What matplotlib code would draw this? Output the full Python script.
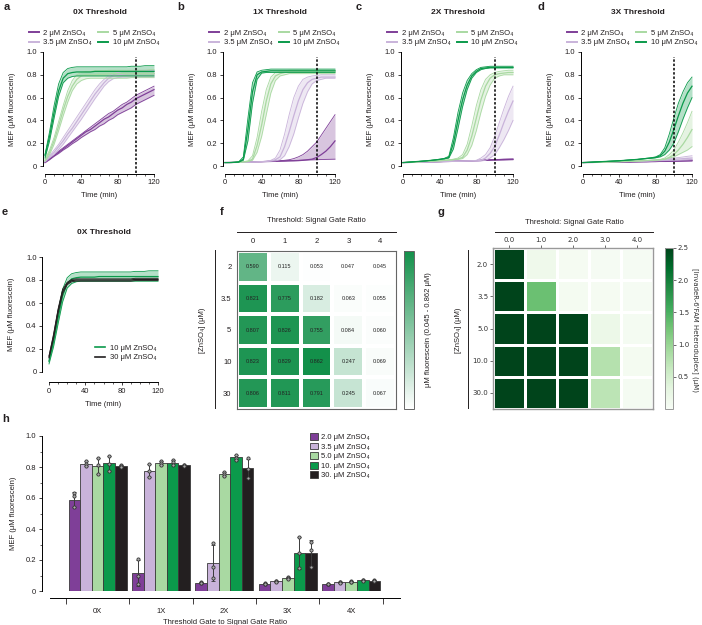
import numpy as np
import matplotlib
matplotlib.use('Agg')
import matplotlib.pyplot as plt
from matplotlib.colors import LinearSegmentedColormap
from matplotlib.ticker import MultipleLocator
from matplotlib.lines import Line2D
from matplotlib.patches import Patch

plt.rcParams['font.family'] = ['Liberation Sans', 'DejaVu Sans']
plt.rcParams['font.size'] = 5.5
plt.rcParams['axes.linewidth'] = 0.7
plt.rcParams['text.color'] = '#231f20'
plt.rcParams['axes.labelcolor'] = '#231f20'
plt.rcParams['xtick.color'] = '#231f20'
plt.rcParams['ytick.color'] = '#231f20'

# ---------------- DATA ----------------
TIME = [0, 5, 10, 15, 20, 25, 30, 35, 40, 45, 50, 55, 60, 65, 70, 75, 80, 85, 90, 95, 100, 105, 110, 115, 120]
CONC_LABELS = ['2 μM ZnSO₄', '3.5 μM ZnSO₄', '5 μM ZnSO₄', '10 μM ZnSO₄']
PANEL_TITLES = ['0X Threshold', '1X Threshold', '2X Threshold', '3X Threshold']

# Panel a (0X)
A_2_MID = [.03,.06,.09,.12,.15,.18,.21,.24,.27,.30,.32,.35,.38,.41,.43,.46,.49,.51,.54,.56,.59,.61,.63,.65,.67]
A_2_LO = [.03,.055,.085,.11,.14,.165,.195,.22,.25,.275,.30,.32,.35,.37,.40,.42,.45,.47,.49,.51,.54,.56,.58,.60,.62]
A_2_HI = [.035,.065,.095,.13,.16,.19,.22,.25,.28,.31,.34,.37,.40,.43,.46,.48,.51,.54,.56,.59,.62,.64,.66,.68,.70]
A_35_MID = [.04,.08,.12,.17,.22,.28,.33,.39,.45,.51,.57,.63,.68,.73,.77,.79,.80,.805,.81,.81,.81,.81,.81,.81,.81]
A_35_LO = [.035,.07,.10,.145,.19,.245,.30,.355,.41,.47,.53,.59,.645,.70,.74,.765,.775,.78,.78,.78,.78,.78,.78,.78,.78]
A_35_HI = [.045,.09,.14,.19,.25,.31,.37,.43,.49,.55,.61,.67,.72,.76,.79,.81,.82,.83,.835,.835,.84,.84,.84,.84,.84]
A_5_MID = [.05,.12,.22,.35,.49,.61,.70,.76,.79,.80,.80,.80,.805,.805,.81,.81,.81,.81,.81,.81,.81,.81,.81,.81,.81]
A_5_LO = [.04,.10,.19,.31,.44,.56,.66,.72,.75,.765,.77,.77,.77,.77,.77,.77,.77,.77,.77,.775,.775,.775,.775,.775,.775]
A_5_HI = [.06,.14,.25,.39,.53,.66,.75,.80,.82,.83,.83,.835,.835,.835,.84,.84,.84,.84,.84,.84,.84,.84,.84,.845,.845]
A_10_MID = [.09,.26,.47,.66,.77,.81,.82,.825,.825,.825,.825,.83,.83,.83,.83,.83,.83,.83,.83,.83,.83,.83,.83,.83,.83]
A_10_LO = [.07,.22,.42,.61,.73,.77,.785,.79,.79,.79,.79,.79,.79,.79,.79,.79,.79,.79,.79,.79,.79,.79,.79,.79,.79]
A_10_HI = [.10,.30,.53,.72,.82,.855,.865,.87,.87,.87,.87,.87,.87,.87,.87,.87,.87,.87,.87,.875,.875,.875,.88,.88,.88]

# Panel b (1X)
B_2_MID = [.03,.031,.032,.033,.034,.035,.036,.037,.038,.039,.04,.041,.042,.043,.044,.045,.047,.05,.055,.06,.075,.10,.13,.17,.22]
B_2_LO = [.03,.031,.032,.034,.035,.036,.038,.039,.04,.041,.043,.044,.045,.046,.048,.049,.05,.052,.053,.054,.055,.057,.058,.059,.06]
B_2_HI = [.03,.031,.032,.033,.034,.035,.036,.037,.038,.04,.042,.044,.046,.05,.055,.065,.08,.10,.13,.17,.21,.27,.33,.39,.45]
B_35_MID = [.03,.03,.031,.032,.033,.034,.035,.036,.038,.04,.045,.055,.08,.17,.30,.44,.57,.67,.73,.76,.77,.78,.78,.78,.78]
B_35_LO = [.03,.03,.031,.032,.033,.034,.035,.036,.038,.04,.043,.045,.055,.09,.17,.28,.42,.55,.65,.72,.75,.76,.77,.77,.77]
B_35_HI = [.03,.03,.031,.032,.033,.034,.035,.036,.038,.042,.05,.07,.14,.28,.45,.60,.70,.76,.78,.79,.795,.80,.80,.80,.80]
B_5_MID = [.03,.03,.032,.034,.036,.04,.06,.18,.36,.57,.72,.79,.81,.82,.825,.825,.825,.825,.825,.825,.825,.825,.825,.825,.825]
B_5_LO = [.03,.03,.031,.033,.035,.038,.05,.12,.26,.45,.64,.75,.79,.80,.81,.81,.81,.81,.81,.81,.81,.81,.81,.81,.81]
B_5_HI = [.03,.03,.033,.035,.038,.045,.09,.25,.48,.67,.78,.82,.83,.835,.84,.84,.84,.84,.84,.84,.84,.84,.84,.84,.84]
B_10_MID = [.03,.03,.032,.035,.06,.32,.65,.80,.825,.83,.835,.835,.835,.835,.835,.835,.835,.835,.835,.835,.835,.835,.835,.835,.835]
B_10_LO = [.03,.03,.031,.034,.05,.22,.55,.76,.815,.82,.82,.82,.82,.82,.82,.82,.82,.82,.82,.82,.82,.82,.82,.82,.82]
B_10_HI = [.03,.03,.033,.037,.08,.42,.73,.825,.84,.845,.85,.85,.85,.85,.85,.85,.85,.85,.85,.85,.85,.85,.85,.85,.85]

# Panel c (2X)
C_2_MID = [.03,.031,.032,.033,.034,.035,.036,.037,.038,.039,.04,.041,.042,.043,.044,.045,.047,.049,.051,.053,.055,.056,.057,.058,.059]
C_2_LO = [.03,.031,.032,.033,.034,.035,.036,.037,.038,.039,.04,.041,.042,.043,.044,.045,.046,.047,.049,.05,.051,.052,.053,.054,.055]
C_2_HI = [.03,.031,.032,.033,.034,.035,.036,.037,.038,.039,.04,.041,.042,.043,.045,.047,.049,.051,.053,.055,.057,.058,.06,.061,.062]
C_35_MID = [.03,.031,.032,.033,.034,.035,.036,.037,.038,.039,.04,.041,.042,.043,.044,.045,.045,.05,.07,.11,.17,.27,.38,.48,.57]
C_35_LO = [.03,.031,.032,.033,.034,.035,.036,.037,.038,.039,.04,.041,.042,.043,.044,.044,.044,.045,.05,.07,.10,.16,.23,.31,.40]
C_35_HI = [.03,.031,.032,.033,.034,.035,.036,.037,.038,.039,.04,.041,.042,.043,.044,.046,.05,.07,.10,.16,.26,.38,.50,.61,.70]
C_5_MID = [.03,.032,.034,.036,.038,.04,.042,.044,.046,.049,.052,.056,.062,.075,.14,.26,.42,.58,.70,.77,.80,.81,.815,.82,.82]
C_5_LO = [.03,.032,.034,.036,.038,.04,.042,.044,.046,.049,.052,.055,.058,.065,.10,.18,.31,.47,.61,.71,.77,.79,.80,.80,.80]
C_5_HI = [.03,.032,.034,.036,.038,.04,.042,.044,.046,.05,.054,.06,.07,.10,.19,.35,.53,.67,.76,.80,.82,.83,.835,.84,.84]
C_10_MID = [.03,.033,.036,.039,.042,.045,.049,.053,.058,.064,.075,.20,.40,.58,.71,.79,.83,.855,.86,.865,.865,.865,.865,.865,.865]
C_10_LO = [.03,.033,.036,.039,.042,.045,.049,.053,.057,.062,.07,.15,.33,.52,.67,.77,.82,.845,.855,.86,.86,.86,.86,.86,.86]
C_10_HI = [.03,.033,.036,.039,.042,.045,.049,.054,.06,.067,.085,.25,.47,.64,.75,.81,.845,.865,.87,.875,.875,.875,.875,.875,.875]

# Panel d (3X)
D_2_MID = [.03,.031,.031,.032,.032,.033,.033,.034,.034,.035,.035,.036,.037,.037,.038,.039,.04,.041,.042,.043,.044,.045,.046,.047,.048]
D_2_LO = [.03,.031,.031,.032,.032,.033,.033,.034,.034,.035,.035,.036,.036,.037,.037,.038,.038,.039,.039,.04,.04,.041,.042,.043,.044]
D_2_HI = [.03,.031,.031,.032,.032,.033,.033,.034,.035,.035,.036,.037,.038,.039,.04,.041,.042,.043,.044,.045,.047,.048,.05,.051,.053]
D_35_MID = [.03,.031,.032,.033,.034,.035,.036,.037,.038,.039,.04,.041,.042,.043,.044,.046,.048,.05,.052,.055,.058,.061,.064,.067,.07]
D_35_LO = [.03,.031,.032,.033,.034,.035,.036,.037,.038,.039,.04,.041,.041,.042,.043,.044,.045,.046,.047,.048,.049,.05,.052,.053,.055]
D_35_HI = [.03,.031,.032,.033,.034,.035,.036,.037,.038,.039,.04,.042,.044,.046,.048,.05,.053,.056,.06,.064,.069,.074,.079,.085,.09]
D_5_MID = [.03,.031,.032,.033,.034,.035,.036,.037,.038,.039,.04,.042,.044,.046,.048,.05,.052,.055,.06,.075,.10,.14,.19,.25,.32]
D_5_LO = [.03,.031,.032,.033,.034,.035,.036,.037,.038,.039,.04,.042,.044,.046,.048,.05,.052,.054,.058,.07,.08,.10,.12,.14,.17]
D_5_HI = [.03,.031,.032,.033,.034,.035,.036,.037,.038,.039,.04,.042,.044,.046,.048,.05,.053,.058,.07,.10,.14,.21,.29,.38,.48]
D_10_MID = [.03,.032,.034,.036,.038,.04,.042,.044,.046,.049,.052,.055,.058,.062,.066,.07,.075,.09,.13,.21,.32,.44,.55,.64,.70]
D_10_LO = [.03,.032,.034,.036,.038,.04,.042,.044,.046,.049,.052,.055,.058,.061,.065,.068,.072,.08,.10,.14,.20,.30,.41,.51,.60]
D_10_HI = [.03,.032,.034,.036,.038,.04,.042,.044,.046,.049,.052,.055,.058,.063,.068,.073,.08,.10,.16,.28,.42,.55,.65,.73,.78]

# Panel e (0X, 10 vs 30 uM)
E_30_MID = [.13,.31,.53,.70,.77,.795,.80,.80,.80,.80,.80,.80,.80,.80,.80,.80,.80,.80,.80,.805,.805,.805,.805,.805,.805]
E_30_LO = [.12,.29,.51,.68,.76,.785,.79,.79,.79,.79,.79,.79,.79,.79,.79,.79,.79,.79,.79,.795,.795,.795,.795,.795,.795]
E_30_HI = [.14,.33,.55,.72,.78,.805,.81,.81,.81,.81,.81,.81,.81,.81,.81,.81,.81,.81,.81,.815,.815,.815,.815,.815,.815]
E_LABELS = ['10 μM ZnSO₄', '30 μM ZnSO₄']

# Panel f heatmap
F_COLS = ['0', '1', '2', '3', '4']
F_ROWS = ['2', '3.5', '5', '10', '30']
F_VALUES = [[0.590, 0.115, 0.053, 0.047, 0.045],
            [0.821, 0.775, 0.182, 0.063, 0.055],
            [0.807, 0.826, 0.755, 0.084, 0.060],
            [0.823, 0.829, 0.862, 0.247, 0.069],
            [0.806, 0.811, 0.791, 0.245, 0.067]]

# Panel g heatmap
G_COLS = ['0.0', '1.0', '2.0', '3.0', '4.0']
G_ROWS = ['2.0', '3.5', '5.0', '10.0', '30.0']
G_VALUES = [[2.5, 0.15, 0.04, 0.03, 0.03],
            [2.5, 1.30, 0.06, 0.04, 0.03],
            [2.5, 2.5, 2.5, 0.20, 0.05],
            [2.5, 2.5, 2.5, 0.78, 0.06],
            [2.5, 2.5, 2.5, 0.72, 0.05]]
G_CBAR_TICKS = [0.5, 1.0, 1.5, 2.0, 2.5]

# Panel h bars
H_GROUPS = ['0X', '1X', '2X', '3X', '4X']
H_LABELS = ['2.0 μM ZnSO₄', '3.5 μM ZnSO₄', '5.0 μM ZnSO₄', '10. μM ZnSO₄', '30. μM ZnSO₄']
H_MEANS = [[0.590, 0.115, 0.053, 0.047, 0.045],
           [0.821, 0.775, 0.182, 0.063, 0.055],
           [0.807, 0.826, 0.755, 0.084, 0.060],
           [0.823, 0.829, 0.862, 0.247, 0.069],
           [0.806, 0.811, 0.791, 0.245, 0.067]]
H_REPS = [
    [[0.63, 0.61, 0.54], [0.205, 0.095, 0.045], [0.056, 0.053, 0.050], [0.049, 0.047, 0.045], [0.046, 0.045, 0.044]],
    [[0.84, 0.82, 0.805], [0.817, 0.775, 0.733], [0.307, 0.157, 0.082], [0.066, 0.063, 0.060], [0.057, 0.055, 0.053]],
    [[0.855, 0.81, 0.755], [0.84, 0.825, 0.813], [0.77, 0.755, 0.74], [0.088, 0.084, 0.080], [0.062, 0.060, 0.058]],
    [[0.873, 0.82, 0.776], [0.843, 0.83, 0.814], [0.88, 0.86, 0.846], [0.35, 0.245, 0.146], [0.072, 0.069, 0.066]],
    [[0.815, 0.805, 0.798], [0.815, 0.811, 0.807], [0.855, 0.79, 0.728], [0.318, 0.262, 0.155], [0.069, 0.067, 0.065]],
]

# ---------------- STYLE ----------------
COL_2 = '#7f3f98'
COL_35 = '#c9b3da'
COL_5 = '#a9d9a2'
COL_10 = '#0b9a4b'
COL_30 = '#231f20'

W, H = 702, 625
fig = plt.figure(figsize=(W / 100, H / 100), dpi=100)


def px_axes(x0, x1, ytop, ybot):
    return fig.add_axes([x0 / W, 1 - ybot / H, (x1 - x0) / W, (ybot - ytop) / H])


def fy(y):
    return 1 - y / H


def style_time_axes(ax, left_off=1.5, bottom_off=5.5):
    ax.set_xlim(0, 120)
    ax.set_ylim(0, 1.0)
    for s in ['top', 'right']:
        ax.spines[s].set_visible(False)
    ax.spines['left'].set_position(('outward', left_off))
    ax.spines['bottom'].set_position(('outward', bottom_off))
    ax.spines['left'].set_bounds(0, 1)
    ax.spines['bottom'].set_bounds(0, 120)
    ax.set_xticks([0, 40, 80, 120])
    ax.xaxis.set_minor_locator(MultipleLocator(10))
    ax.set_yticks([0, .2, .4, .6, .8, 1.0])
    ax.set_yticklabels(['0', '0.2', '0.4', '0.6', '0.8', '1.0'])
    ax.tick_params(length=2.5, width=0.6, labelsize=5.5, pad=1.5)
    ax.tick_params(which='minor', length=1.5, width=0.5)
    ax.set_xlabel('Time (min)', labelpad=4)
    ax.set_ylabel('MEF (μM fluorescein)', labelpad=8)
    ax.patch.set_alpha(0)


def draw_series(ax, mid, lo, hi, color, alpha=0.3, lw=0.9):
    ax.fill_between(TIME, lo, hi, color=color, alpha=alpha, lw=0, clip_on=False)
    ax.plot(TIME, lo, color=color, lw=0.6, clip_on=False)
    ax.plot(TIME, hi, color=color, lw=0.6, clip_on=False)
    ax.plot(TIME, mid, color=color, lw=lw, clip_on=False)


panels = [
    ('a', 45, 154, 4, [(A_2_MID, A_2_LO, A_2_HI), (A_35_MID, A_35_LO, A_35_HI), (A_5_MID, A_5_LO, A_5_HI), (A_10_MID, A_10_LO, A_10_HI)]),
    ('b', 225, 335, 177, [(B_2_MID, B_2_LO, B_2_HI), (B_35_MID, B_35_LO, B_35_HI), (B_5_MID, B_5_LO, B_5_HI), (B_10_MID, B_10_LO, B_10_HI)]),
    ('c', 403, 513, 356, [(C_2_MID, C_2_LO, C_2_HI), (C_35_MID, C_35_LO, C_35_HI), (C_5_MID, C_5_LO, C_5_HI), (C_10_MID, C_10_LO, C_10_HI)]),
    ('d', 583, 692, 538, [(D_2_MID, D_2_LO, D_2_HI), (D_35_MID, D_35_LO, D_35_HI), (D_5_MID, D_5_LO, D_5_HI), (D_10_MID, D_10_LO, D_10_HI)]),
]
colors4 = [COL_2, COL_35, COL_5, COL_10]
for i, (letter, x0, x1, lx, series) in enumerate(panels):
    ax = px_axes(x0, x1, 52, 166)
    style_time_axes(ax)
    for (mid, lo, hi), c in zip(series, colors4):
        draw_series(ax, mid, lo, hi, c)
    ax.axvline(100, ymin=-0.065, ymax=0.96, color='black', lw=1.1, ls=(0, (1.6, 1.2)), clip_on=False)
    handles = [Line2D([], [], color=c, lw=1.4) for c in colors4]
    ax.legend(handles, CONC_LABELS, ncol=2, loc='lower center', bbox_to_anchor=(0.45, 1.05),
              frameon=False, fontsize=5.5, handlelength=1.3, handletextpad=0.6, columnspacing=0.8,
              labelspacing=0.25, borderpad=0, borderaxespad=0)
    fig.text((x0 + x1) / 2 / W, fy(12), PANEL_TITLES[i], ha='center', va='center', fontsize=6, fontweight='bold')
    fig.text(lx / W, fy(2), letter, ha='left', va='top', fontsize=8, fontweight='bold')

# Panel e
axe = px_axes(49, 158, 257, 372)
style_time_axes(axe, left_off=5, bottom_off=7.5)
draw_series(axe, A_10_MID, A_10_LO, A_10_HI, COL_10)
draw_series(axe, E_30_MID, E_30_LO, E_30_HI, COL_30, alpha=0.25)
axe.legend([Line2D([], [], color=COL_10, lw=1.2), Line2D([], [], color=COL_30, lw=1.2)], E_LABELS,
           loc='lower right', bbox_to_anchor=(1.02, 0.06), frameon=False, fontsize=5.5, handlelength=1.3,
           handletextpad=0.6, labelspacing=0.25, borderpad=0)
fig.text(104 / W, fy(232), '0X Threshold', ha='center', va='center', fontsize=6, fontweight='bold')
fig.text(2 / W, fy(207), 'e', ha='left', va='top', fontsize=8, fontweight='bold')

# Panel f
axf = px_axes(237, 396, 251, 409)
F = np.array(F_VALUES)
cmap_f = LinearSegmentedColormap.from_list('wg', ['#ffffff', '#13904a'])
mf = axf.pcolormesh(F, cmap=cmap_f, vmin=0.045, vmax=0.862, edgecolors='white', linewidth=1.5)
axf.set_xlim(0, 5)
axf.set_ylim(5, 0)
for r in range(F.shape[0]):
    for c in range(F.shape[1]):
        axf.text(c + 0.5, r + 0.5, f'{F[r, c]:.3f}', ha='center', va='center', fontsize=4, color='#222')
axf.xaxis.tick_top()
axf.set_xticks(np.arange(5) + 0.5)
axf.set_xticklabels(F_COLS)
axf.set_yticks(np.arange(5) + 0.5)
axf.set_yticklabels(F_ROWS)
axf.tick_params(length=0, labelsize=5.5, pad=4)
for s in axf.spines.values():
    s.set_edgecolor('#666')
    s.set_linewidth(0.8)
caxf = px_axes(404, 414, 251, 409)
cbf = fig.colorbar(mf, cax=caxf)
cbf.set_ticks([])
cbf.outline.set_edgecolor('#666')
cbf.outline.set_linewidth(0.7)
fig.text(428 / W, fy(330), 'μM fluorescein (0.045 - 0.862 μM)', rotation=90, ha='center', va='center', fontsize=5.5)
fig.text(316 / W, fy(221), 'Threshold: Signal Gate Ratio', ha='center', va='center', fontsize=5.5)
fig.add_artist(Line2D([237 / W, 396 / W], [fy(232), fy(232)], color='#231f20', lw=0.7))
fig.text(202 / W, fy(330), '[ZnSO₄] (μM)', rotation=90, ha='center', va='center', fontsize=5.5)
fig.add_artist(Line2D([215 / W, 215 / W], [fy(250), fy(408)], color='#231f20', lw=0.7))
fig.text(220 / W, fy(207), 'f', ha='left', va='top', fontsize=8, fontweight='bold')

# Panel g
axg = px_axes(493, 653, 248, 409)
G = np.array(G_VALUES)
mg = axg.pcolormesh(G, cmap='Greens', vmin=0, vmax=2.5, edgecolors='white', linewidth=2)
axg.set_xlim(0, 5)
axg.set_ylim(5, 0)
axg.xaxis.tick_top()
axg.set_xticks(np.arange(5) + 0.5)
axg.set_xticklabels(G_COLS, family='DejaVu Sans')
axg.set_yticks(np.arange(5) + 0.5)
axg.set_yticklabels(G_ROWS, family='DejaVu Sans')
axg.tick_params(length=2, width=0.5, labelsize=5, pad=1.5, colors='#333')
for s in axg.spines.values():
    s.set_edgecolor('#999')
    s.set_linewidth(1.0)
caxg = px_axes(665, 673, 248, 409)
cbg = fig.colorbar(mg, cax=caxg)
cbg.set_ticks(G_CBAR_TICKS)
cbg.ax.tick_params(labelsize=5, length=2, width=0.5, pad=1.5, colors='#333')
for t in cbg.ax.get_yticklabels():
    t.set_family('DejaVu Sans')
cbg.outline.set_edgecolor('#999')
cbg.outline.set_linewidth(0.7)
fig.text(695 / W, fy(330), "[InvadeR-6'FAM Heteroduplex] (μM)", rotation=270, ha='center', va='center',
         fontsize=5, family='DejaVu Sans', color='#333')
fig.text(574 / W, fy(222), 'Threshold: Signal Gate Ratio', ha='center', va='center', fontsize=5.5)
fig.add_artist(Line2D([495 / W, 653 / W], [fy(232), fy(232)], color='#231f20', lw=0.7))
fig.text(459 / W, fy(330), '[ZnSO₄] (μM)', rotation=90, ha='center', va='center', fontsize=5.5)
fig.add_artist(Line2D([468 / W, 468 / W], [fy(250), fy(408)], color='#231f20', lw=0.7))
fig.text(438 / W, fy(207), 'g', ha='left', va='top', fontsize=8, fontweight='bold')

# Panel h
axh = px_axes(50, 400, 436, 591)
bar_colors = [COL_2, COL_35, COL_5, COL_10, COL_30]
nser = len(H_LABELS)
bw = 0.183
x = np.arange(len(H_GROUPS))
for k in range(nser):
    xs = x + (k - (nser - 1) / 2) * bw
    axh.bar(xs, H_MEANS[k], width=bw, color=bar_colors[k], edgecolor='#3a3a3a', linewidth=0.6, zorder=2)
    reps = np.array(H_REPS[k])
    sd = reps.std(axis=1, ddof=1)
    axh.errorbar(xs, H_MEANS[k], yerr=sd, fmt='none', ecolor='#3a3a3a', elinewidth=0.7, capsize=1.2,
                 capthick=0.6, zorder=3)
    for j in range(len(H_GROUPS)):
        axh.plot([xs[j]] * reps.shape[1], reps[j], 'o', ms=2.3, mfc='#aaaaaa', mec='#333', mew=0.6, zorder=4)
axh.set_xlim(-0.75, 4.77)
axh.set_ylim(0, 1.0)
for s in ['top', 'right']:
    axh.spines[s].set_visible(False)
axh.spines['left'].set_position(('outward', 6))
axh.spines['bottom'].set_position(('outward', 5))
axh.spines['left'].set_bounds(0, 1)
axh.set_yticks([0, .2, .4, .6, .8, 1.0])
axh.set_yticklabels(['0', '0.2', '0.4', '0.6', '0.8', '1.0'])
axh.yaxis.set_minor_locator(MultipleLocator(0.1))
axh.set_xticks(x)
axh.set_xticklabels(H_GROUPS)
axh.set_xticks(np.arange(-0.5, 5.0, 1.0), minor=True)
axh.tick_params(axis='x', which='major', length=0, pad=7)
axh.tick_params(axis='x', which='minor', length=4.5, width=0.6)
axh.tick_params(axis='y', which='major', length=2.5, width=0.6, pad=1.5)
axh.tick_params(axis='y', which='minor', length=1.5, width=0.5)
axh.tick_params(labelsize=5.5)
axh.set_ylabel('MEF (μM fluorescein)', labelpad=6)
axh.set_xlabel('Threshold Gate to Signal Gate Ratio', labelpad=3)
axh.patch.set_alpha(0)
leg_handles = [Patch(facecolor=c, edgecolor='#3a3a3a', linewidth=0.6) for c in bar_colors]
fig.legend(leg_handles, H_LABELS, loc='upper left', bbox_to_anchor=(310 / W, fy(433)), frameon=False,
           fontsize=5.5, handlelength=1.0, handleheight=1.0, handletextpad=0.4, labelspacing=0.2,
           borderpad=0, borderaxespad=0)
fig.text(2 / W, fy(414), 'h', ha='left', va='top', fontsize=8, fontweight='bold')

fig.savefig('out.png', dpi=100)
